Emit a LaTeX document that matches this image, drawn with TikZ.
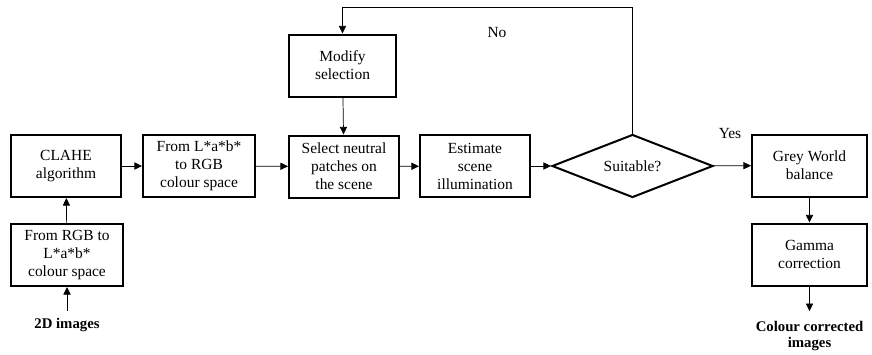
\documentclass[tikz,border=0pt]{standalone}
\usepackage{fontspec}
\setmainfont{Liberation Serif}
\usetikzlibrary{arrows.meta,shapes.geometric}
\begin{document}
\begin{tikzpicture}[
    stepbox/.style={draw, line width=0.05cm, align=center, inner sep=0pt,
        minimum width=2.750000cm, minimum height=1.550000cm},
    testbox/.style={draw, line width=0.05cm, diamond, aspect=2.5, inner sep=0pt,
        minimum width=4.025000cm, minimum height=1.575000cm},
    flow/.style={line width=0.018cm, -{Triangle[length=0.19cm,width=0.18cm]}},
    ioText/.style={font=\bfseries\fontsize{10.5}{12}\selectfont, align=center, inner sep=1pt}
]
    \useasboundingbox (0.000000,0.000000) rectangle (21.800000,-8.850000);
    {\fontsize{11}{12.8}\selectfont

    % Marking input and output texts
    \node [ioText] (input) at (1.675000,-8.125000) {2D images};
    \node [ioText] (output) at (20.237500,-8.400000) {Colour corrected\\images};

    % Drawing processing boxes
    \node [stepbox, minimum width=2.800000cm] (rgb2lab) at (1.675000,-6.375000) {From RGB to\\L*a*b*\\colour space};
    \node [stepbox] (clahe) at (1.650000,-4.150000) {CLAHE\\algorithm};
    \node [stepbox, minimum width=2.800000cm] (lab2rgb) at (4.975000,-4.150000) {From L*a*b*\\to RGB\\colour space};
    \node [stepbox, minimum width=2.675000cm] (modify) at (8.562500,-1.637500) {Modify\\selection};
    \node [stepbox] (select) at (8.600000,-4.162500) {Select neutral\\patches on\\the scene};
    \node [stepbox] (estimate) at (11.875000,-4.150000) {Estimate\\scene\\illumination};
    \node [stepbox, minimum width=2.875000cm] (grey) at (20.237500,-4.137500) {Grey World\\balance};
    \node [stepbox, minimum width=2.875000cm] (gamma) at (20.237500,-6.362500) {Gamma\\correction};

    % Drawing decision diamond
    \node [testbox] (suitable) at (15.812500,-4.150000) {Suitable?};

    % Marking branch labels
    \node (no) at (12.425000,-0.825000) {No};
    \node (yes) at (18.250000,-3.350000) {Yes};

    % Drawing connectors
    \draw [flow] ([yshift=0.15cm]input.north) -- (rgb2lab);
    \draw [flow] (rgb2lab) -- (clahe);
    \draw [flow] (clahe) -- (lab2rgb);
    \draw [flow] (lab2rgb) -- (select);
    \draw [flow] (modify) -- (select);
    \draw [flow] (select) -- (estimate);
    \draw [flow] (estimate) -- (suitable);
    \draw [flow] (suitable) -- (grey);
    \draw [flow] (grey) -- (gamma);
    \draw [flow] (gamma) -- ([yshift=0.2cm]output.north);

    % Drawing loop back to modify selection
    \coordinate (loop) at (15.812500,-0.175000);
    \draw [flow] (suitable.north) -- (loop) -| (modify.north);
    }
\end{tikzpicture}
\end{document}
